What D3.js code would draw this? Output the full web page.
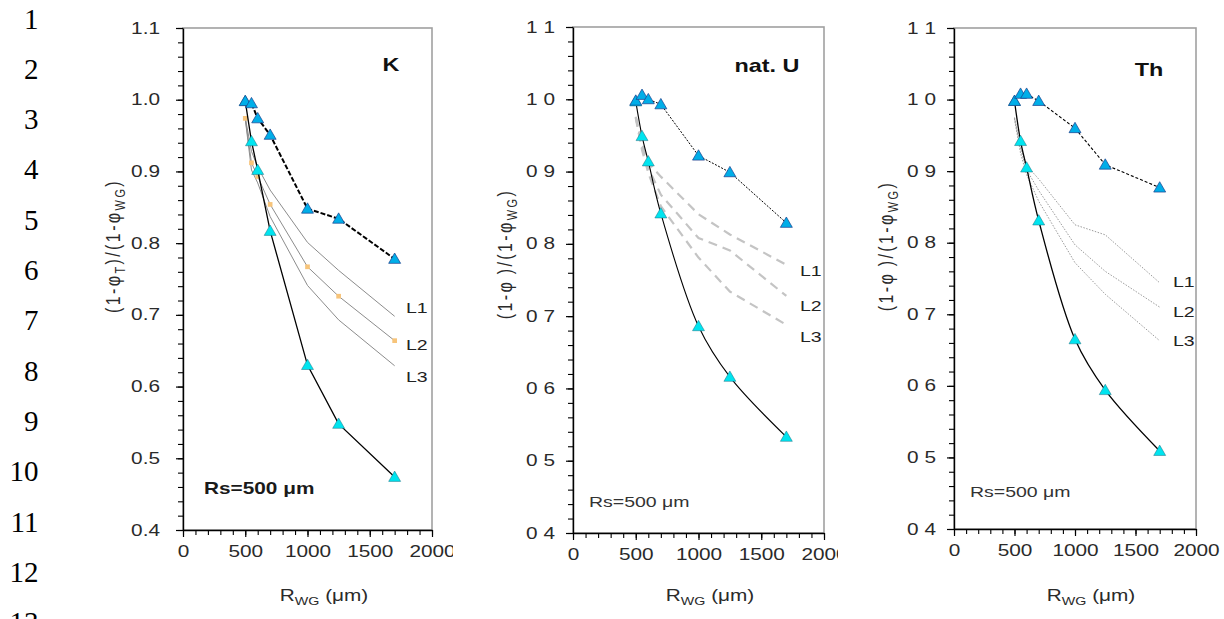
<!DOCTYPE html>
<html><head><meta charset="utf-8">
<script src="https://cdn.jsdelivr.net/npm/d3@7"></script>
<style>body{margin:0;background:#fff} svg{display:block}</style>
</head><body><svg id="c" width="1224" height="619"></svg>
<script>
// ---------- data ----------
const rwg = [500, 550, 600, 700, 1000, 1250, 1700];

const kUpper = [0.998, 0.995, 0.974, 0.951, 0.848, 0.834, 0.778];
const kLower = [0.998, 0.942, 0.902, 0.817, 0.630, 0.548, 0.474];
const kL1 = [0.975, 0.928, 0.906, 0.874, 0.801, 0.762, 0.698];
const kL2 = [0.974, 0.912, 0.893, 0.854, 0.767, 0.726, 0.664];
const kL3 = [0.973, 0.902, 0.884, 0.837, 0.741, 0.693, 0.629];

const uUpper = [0.998, 1.006, 1.000, 0.993, 0.922, 0.899, 0.829];
const uLower = [0.997, 0.949, 0.914, 0.842, 0.686, 0.616, 0.533];
const uL1 = [0.976, 0.940, 0.912, 0.893, 0.841, 0.813, 0.771];
const uL2 = [0.975, 0.935, 0.905, 0.868, 0.808, 0.791, 0.728];
const uL3 = [0.974, 0.930, 0.898, 0.852, 0.781, 0.734, 0.688];

const thUpper = [0.998, 1.008, 1.008, 0.998, 0.960, 0.909, 0.877];
const thLower = [0.998, 0.942, 0.905, 0.831, 0.665, 0.594, 0.509];
const thL1 = [0.975, 0.935, 0.908, 0.889, 0.825, 0.811, 0.744];
const thL2 = [0.974, 0.930, 0.902, 0.873, 0.797, 0.760, 0.710];
const thL3 = [0.973, 0.925, 0.895, 0.858, 0.772, 0.728, 0.663];

const xTickValues = [0, 500, 1000, 1500, 2000];
const xTickLabels = ["0", "500", "1000", "1500", "2000"];
const yTickValues = [0.4, 0.5, 0.6, 0.7, 0.8, 0.9, 1.0, 1.1];
const yTickLabelsK = ["0.4", "0.5", "0.6", "0.7", "0.8", "0.9", "1.0", "1.1"];
const yTickLabelsU = ["0 4", "0 5", "0 6", "0 7", "0 8", "0 9", "1 0", "1 1"];
const lineNumbers = ["1","2","3","4","5","6","7","8","9","10","11","12","13"];
const panelNames = ["K", "nat. U", "Th"];
const curveLabels = ["L1", "L2", "L3"];
const rsLabel = "Rs=500 \u03bcm";

// ---------- drawing ----------
const SX = 1.3;
const FONT = "'Liberation Sans', Arial, Helvetica, sans-serif";
const svg = d3.select("#c");

svg.append("g").selectAll("text").data(lineNumbers).join("text")
  .attr("x", 38.5).attr("y", (d, i) => 28.5 + i * 50.3)
  .attr("text-anchor", "end")
  .attr("font-family", "'Liberation Serif', 'Times New Roman', serif")
  .attr("font-size", 29).attr("fill", "#000").text(d => d);

const panels = [
  { x0: 183, x1: 432, yt: 28, yb: 530, clipR: 453, upper: kUpper, lower: kLower, L: [kL1, kL2, kL3],
    ylab: yTickLabelsK, yLabOff: 23, name: panelNames[0], nameXY: [391, 71], nameBold: true,
    rsXY: [204, 494], rsBold: true, rsSize: 16, Lx: 406, Ly: [312.5, 349.5, 381.5],
    ytitleXY: [112.5, 246], ytitleT: "T", xtitleX: 324,
    upperStyle: { w: 2, dash: "5,2" }, lowerStyle: { w: 1.3, curve: d3.curveLinear },
    LStyle: { c: "#8c8c8c", w: 1, dash: null }, squares: true },
  { x0: 573, x1: 824, yt: 27, yb: 533, clipR: 838, upper: uUpper, lower: uLower, L: [uL1, uL2, uL3],
    ylab: yTickLabelsU, yLabOff: 18, name: panelNames[1], nameXY: [767, 72], nameBold: true,
    rsXY: [589, 507], rsBold: false, rsSize: 15, Lx: 800, Ly: [275.5, 311, 342],
    ytitleXY: [505, 254], ytitleT: " ", xtitleX: 710,
    upperStyle: { w: 1, dash: "2,1.5" }, lowerStyle: { w: 1.1, curve: d3.curveCatmullRom },
    LStyle: { c: "#c4c4c4", w: 2.2, dash: "9,6" }, squares: false },
  { x0: 954, x1: 1196, yt: 28, yb: 529, clipR: 1224, upper: thUpper, lower: thLower, L: [thL1, thL2, thL3],
    ylab: yTickLabelsU, yLabOff: 18, name: panelNames[2], nameXY: [1149, 76], nameBold: true,
    rsXY: [970, 497], rsBold: false, rsSize: 15, Lx: 1173, Ly: [287, 317, 345.5],
    ytitleXY: [886, 246], ytitleT: " ", xtitleX: 1091,
    upperStyle: { w: 1.1, dash: "3,2" }, lowerStyle: { w: 1.3, curve: d3.curveCatmullRom },
    LStyle: { c: "#9a9a9a", w: 1, dash: "1.5,1.5" }, squares: false }
];

function stext(g, str, x, y, size, anchor, bold, fill) {
  return g.append("text")
    .attr("transform", `translate(${x},${y}) scale(${SX},1)`)
    .attr("text-anchor", anchor).attr("font-family", FONT)
    .attr("font-size", size).attr("font-weight", bold ? "bold" : "normal")
    .attr("fill", fill || "#222").text(str);
}

panels.forEach((p, pi) => {
  const x = d3.scaleLinear().domain([0, 2000]).range([p.x0, p.x1]);
  const y = d3.scaleLinear().domain([0.4, 1.1]).range([p.yb, p.yt]);
  const clipId = "clip" + pi;
  svg.append("clipPath").attr("id", clipId).append("rect")
    .attr("x", p.x0 - 140).attr("y", 0).attr("width", p.clipR - (p.x0 - 140)).attr("height", 619);
  const g = svg.append("g").attr("clip-path", `url(#${clipId})`);

  // plot frame (grey)
  g.append("rect").attr("x", p.x0).attr("y", p.yt)
    .attr("width", p.x1 - p.x0).attr("height", p.yb - p.yt)
    .attr("fill", "none").attr("stroke", "#a0a0a0").attr("stroke-width", 1.6);

  // minor ticks
  const yMinor = d3.range(0, 36).map(i => 0.4 + i * 0.02);
  const xMinor = d3.range(0, 21).map(i => i * 100);
  const gyMin = g.append("g").attr("transform", `translate(${p.x0},0)`)
    .call(d3.axisLeft(y).tickValues(yMinor).tickSize(5).tickSizeOuter(0).tickFormat(""));
  const gxMin = g.append("g").attr("transform", `translate(0,${p.yb})`)
    .call(d3.axisBottom(x).tickValues(xMinor).tickSize(5).tickSizeOuter(0).tickFormat(""));
  [gyMin, gxMin].forEach(a => { a.select(".domain").remove(); a.selectAll("line").attr("stroke", "#000").attr("stroke-width", 1.1); });

  // major axes
  const gy = g.append("g").attr("transform", `translate(${p.x0},0)`)
    .call(d3.axisLeft(y).tickValues(yTickValues).tickSize(7).tickSizeOuter(0)
      .tickFormat((d, i) => p.ylab[i]));
  const gx = g.append("g").attr("transform", `translate(0,${p.yb})`)
    .call(d3.axisBottom(x).tickValues(xTickValues).tickSize(7).tickPadding(9).tickSizeOuter(0)
      .tickFormat((d, i) => xTickLabels[i]));
  [gy, gx].forEach(a => {
    a.select(".domain").attr("stroke", "#000").attr("stroke-width", 1.4);
    a.selectAll("line").attr("stroke", "#000").attr("stroke-width", 1.2);
    a.selectAll("text").attr("font-family", FONT).attr("font-size", 16).attr("fill", "#2a2a2a")
      .attr("transform", `scale(${SX},1)`);
  });
  gy.selectAll("text").attr("x", -p.yLabOff / SX);

  // series
  const lineL = d3.line().x((d, i) => x(rwg[i])).y(d => y(d));
  p.L.forEach(arr => {
    g.append("path").datum(arr).attr("d", lineL).attr("fill", "none")
      .attr("stroke", p.LStyle.c).attr("stroke-width", p.LStyle.w)
      .attr("stroke-dasharray", p.LStyle.dash);
  });
  if (p.squares) {
    g.append("g").selectAll("path").data(p.L[1]).join("path")
      .attr("transform", (d, i) => `translate(${x(rwg[i])},${y(d)})`)
      .attr("d", d3.symbol(d3.symbolSquare, 22)).attr("fill", "#f7c47a");
  }
  const lineLow = d3.line().curve(p.lowerStyle.curve).x((d, i) => x(rwg[i])).y(d => y(d));
  g.append("path").datum(p.lower).attr("d", lineLow).attr("fill", "none")
    .attr("stroke", "#000").attr("stroke-width", p.lowerStyle.w);
  const lineUp = d3.line().x((d, i) => x(rwg[i])).y(d => y(d));
  g.append("path").datum(p.upper).attr("d", lineUp).attr("fill", "none")
    .attr("stroke", "#000").attr("stroke-width", p.upperStyle.w)
    .attr("stroke-dasharray", p.upperStyle.dash);

  const tri = d3.symbol(d3.symbolTriangle, 62);
  g.append("g").selectAll("path").data(p.lower).join("path")
    .attr("transform", (d, i) => `translate(${x(rwg[i])},${y(d) + 1})`)
    .attr("d", tri).attr("fill", "#00e4ef").attr("stroke", "#1b6f80").attr("stroke-width", 0.5);
  g.append("g").selectAll("path").data(p.upper).join("path")
    .attr("transform", (d, i) => `translate(${x(rwg[i])},${y(d) + 1})`)
    .attr("d", tri).attr("fill", "#00aee8").attr("stroke", "#1a3f8c").attr("stroke-width", 0.7);

  // texts
  stext(g, p.name, p.nameXY[0], p.nameXY[1], 18, "middle", p.nameBold, "#111");
  stext(g, rsLabel, p.rsXY[0], p.rsXY[1], p.rsSize, "start", p.rsBold, p.rsBold ? "#1a1a1a" : "#333");
  curveLabels.forEach((s, i) => stext(g, s, p.Lx, p.Ly[i], 15, "start", false, "#222"));

  // y title
  const yt = g.append("text")
    .attr("transform", `translate(${p.ytitleXY[0]},${p.ytitleXY[1]}) rotate(-90) scale(1,${SX})`)
    .attr("text-anchor", "middle").attr("dy", "0.35em")
    .attr("font-family", FONT).attr("font-size", 16).attr("fill", "#2a2a2a")
    .attr("letter-spacing", 2.4);
  yt.append("tspan").text("(1-\u03c6");
  yt.append("tspan").attr("font-size", 11).attr("dy", 4).text(p.ytitleT);
  yt.append("tspan").attr("dy", -4).text(")/(1-\u03c6");
  yt.append("tspan").attr("font-size", 11).attr("dy", 4).text("WG");
  yt.append("tspan").attr("dy", -4).text(")");

  // x title
  const xt = g.append("text")
    .attr("transform", `translate(${p.xtitleX},601) scale(${SX},1)`)
    .attr("text-anchor", "middle").attr("font-family", FONT).attr("font-size", 16).attr("fill", "#2a2a2a");
  xt.append("tspan").text("R");
  xt.append("tspan").attr("font-size", 11).attr("dy", 4).text("WG");
  xt.append("tspan").attr("dy", -4).text(" (\u03bcm)");
});
</script>
</body></html>
